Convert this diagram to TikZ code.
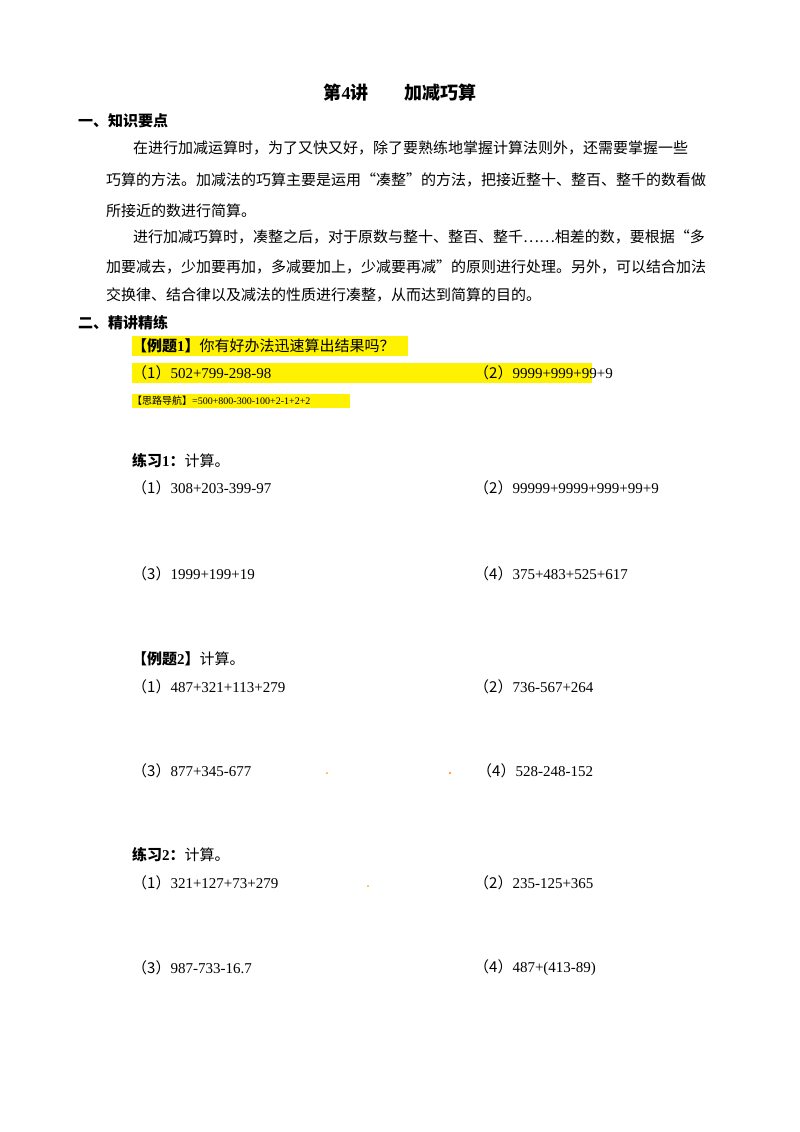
\documentclass[tikz,border=0pt]{standalone}
\usepackage{fontspec}
\setmainfont{Liberation Serif}
\newfontfamily\cjk{Noto Sans CJK SC}
\begin{document}
\begin{tikzpicture}[x=1pt,y=-1pt,
  t/.style={anchor=west,inner sep=0pt,font=\fontsize{15}{15}\selectfont},
  ts/.style={anchor=west,inner sep=0pt,font=\fontsize{10}{10}\selectfont},
  hl/.style={fill=yellow,draw=none}]
\useasboundingbox[fill=white] (0,0) rectangle (800,1132);
\node[inner sep=0pt,font=\fontsize{18}{18}\selectfont] (title) at (400,93) {{\cjk\bfseries 第}\textbf{4}{\cjk\bfseries 讲\quad\quad 加减巧算}};
\node[t] (h1) at (78,121) {\cjk\bfseries 一、知识要点};
\node[t] (p1) at (133,148) {\cjk 在进行加减运算时，为了又快又好，除了要熟练地掌握计算法则外，还需要掌握一些};
\node[t] (p2) at (106,180) {\cjk 巧算的方法。加减法的巧算主要是运用“凑整”的方法，把接近整十、整百、整千的数看做};
\node[t] (p3) at (106,211) {\cjk 所接近的数进行简算。};
\node[t] (p4) at (133,237) {\cjk 进行加减巧算时，凑整之后，对于原数与整十、整百、整千……相差的数，要根据“多};
\node[t] (p5) at (106,267) {\cjk 加要减去，少加要再加，多减要加上，少减要再减”的原则进行处理。另外，可以结合加法};
\node[t] (p6) at (106,295) {\cjk 交换律、结合律以及减法的性质进行凑整，从而达到简算的目的。};
\node[t] (h2) at (78,323) {\cjk\bfseries 二、精讲精练};
\fill[hl] (132,336) rectangle (408,356);
\fill[hl] (132,363) rectangle (592,383);
\fill[hl] (132,394) rectangle (350,408);
\node[t] (e1) at (132,346) {{\cjk\bfseries 【例题}\textbf{1}{\cjk\bfseries 】}{\cjk 你有好办法迅速算出结果吗？}};
\node[t] (e1a) at (132,373) {{\cjk （1）}502+799-298-98};
\node[t] (e1b) at (474,373) {{\cjk （2）}9999+999+99+9};
\node[ts] (e1c) at (132,401) {{\cjk 【思路导航】}=500+800-300-100+2-1+2+2};
\node[t] (x1) at (132,461) {{\cjk\bfseries 练习}\textbf{1}{\cjk\bfseries ：}{\cjk 计算。}};
\node[t] (x1a) at (132,488) {{\cjk （1）}308+203-399-97};
\node[t] (x1b) at (474,488) {{\cjk （2）}99999+9999+999+99+9};
\node[t] (x1c) at (132,574) {{\cjk （3）}1999+199+19};
\node[t] (x1d) at (474,574) {{\cjk （4）}375+483+525+617};
\node[t] (e2) at (132,659) {{\cjk\bfseries 【例题}\textbf{2}{\cjk\bfseries 】}{\cjk 计算。}};
\node[t] (e2a) at (132,687) {{\cjk （1）}487+321+113+279};
\node[t] (e2b) at (474,687) {{\cjk （2）}736-567+264};
\node[t] (e2c) at (132,771) {{\cjk （3）}877+345-677};
\node[t] (e2d) at (477,771) {{\cjk （4）}528-248-152};
\node[t] (x2) at (132,855) {{\cjk\bfseries 练习}\textbf{2}{\cjk\bfseries ：}{\cjk 计算。}};
\node[t] (x2a) at (132,883) {{\cjk （1）}321+127+73+279};
\node[t] (x2b) at (474,883) {{\cjk （2）}235-125+365};
\node[t] (x2c) at (132,968) {{\cjk （3）}987-733-16.7};
\node[t] (x2d) at (474,968) {{\cjk （4）}487+(413-89)};
\fill[orange!70!yellow] (327,773) circle (1);
\fill[orange] (450,773) circle (1.2);
\fill[orange!70!yellow] (368,886) circle (1);
\end{tikzpicture}
\end{document}
